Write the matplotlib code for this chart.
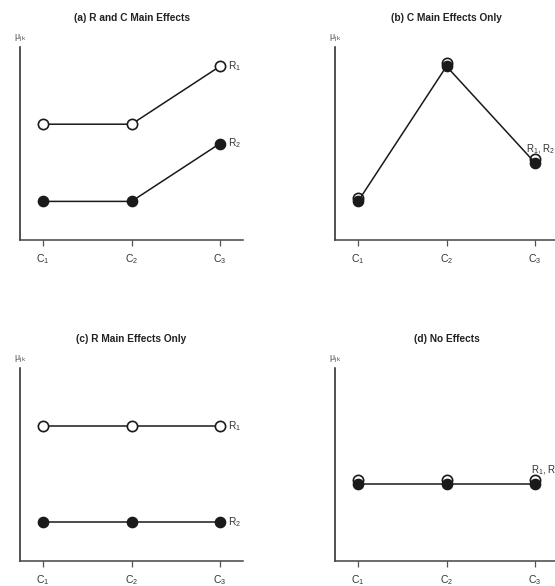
import numpy as np
import matplotlib
matplotlib.use("Agg")
import matplotlib.pyplot as plt
import matplotlib.transforms as mtransforms

plt.rcParams.update({"font.family": ["Liberation Sans", "DejaVu Sans"],
                     "mathtext.default": "regular"})

# column levels and cell means for each pattern
LEVELS = [1, 2, 3]
TICK_LABELS = ["C$_1$", "C$_2$", "C$_3$"]
TITLES = ["(a) R and C Main Effects", "(b) C Main Effects Only",
          "(c) R Main Effects Only", "(d) No Effects"]

R1_A = [6, 6, 9]
R2_A = [2, 2, 5]
R1_B = [2, 9, 4]
R2_B = [2, 9, 4]
R1_C = [7, 7, 7]
R2_C = [2, 2, 2]
R1_D = [4, 4, 4]
R2_D = [4, 4, 4]

fig = plt.figure(figsize=(5.55, 5.86), dpi=100)
W, H = 5.55 * 100, 5.86 * 100

def make_ax(left_px, top_px):
    # axes rectangle given in pixel units
    return fig.add_axes([left_px / W, 1 - (top_px + 193) / H, 223 / W, 193 / H])

axs = [make_ax(20, 47), make_ax(335, 47), make_ax(20, 368), make_ax(335, 368)]

def draw(ax, title, r1, r2, labels, together, lab_dx=-3):
    # when the two rows coincide, nudge the open markers up so both show
    shift = mtransforms.offset_copy(ax.transData, fig=fig, x=0, y=3.5, units="dots")
    if together:
        ax.plot(LEVELS, r1, ls="none", marker="o", ms=7.4, mfc="white",
                mec="#1a1a1a", mew=1.2, zorder=3, transform=shift, clip_on=False)
    else:
        ax.plot(LEVELS, r1, color="#1a1a1a", lw=1.1, marker="o", ms=7.4,
                mfc="white", mec="#1a1a1a", mew=1.2, zorder=3, clip_on=False)
    ax.plot(LEVELS, r2, color="#1a1a1a", lw=1.1, marker="o", ms=7.4,
            mfc="#1a1a1a", mec="#1a1a1a", zorder=4, clip_on=False)
    ax.set_xlim(0.74, 3.26)
    ax.set_ylim(0, 10)
    for s in ["top", "right"]:
        ax.spines[s].set_visible(False)
    ax.spines["left"].set_color("#222222")
    ax.spines["bottom"].set_color("#444444")
    ax.spines["left"].set_linewidth(1.1)
    ax.spines["bottom"].set_linewidth(1.1)
    ax.set_yticks([])
    ax.set_xticks(LEVELS)
    ax.set_xticklabels(TICK_LABELS, fontsize=7.5, color="#333333")
    ax.tick_params(axis="x", length=4, width=0.9, color="#555555", pad=5)
    ax.set_title(title, fontsize=7.3, fontweight="bold", color="#222222", pad=19)
    ax.text(0.0, 1.015, r"μ$_{j\,k}$", transform=ax.transAxes, fontsize=6.5,
            color="#555555", ha="center", va="bottom")
    if together:
        ax.annotate(labels[0], xy=(LEVELS[-1], r2[-1]), xytext=(lab_dx, 9.5),
                    textcoords="offset points", fontsize=7, color="#333333",
                    ha="left", va="center", annotation_clip=False)
    else:
        for lab, r in zip(labels, [r1, r2]):
            ax.annotate(lab, xy=(LEVELS[-1], r[-1]), xytext=(6, 0),
                        textcoords="offset points", fontsize=7.3, color="#333333",
                        ha="left", va="center", annotation_clip=False)

draw(axs[0], TITLES[0], R1_A, R2_A, ["R$_1$", "R$_2$"], False)
draw(axs[1], TITLES[1], R1_B, R2_B, ["R$_1$, R$_2$"], True, lab_dx=-6.5)
draw(axs[2], TITLES[2], R1_C, R2_C, ["R$_1$", "R$_2$"], False)
draw(axs[3], TITLES[3], R1_D, R2_D, ["R$_1$, R$_2$"], True, lab_dx=-3)

fig.savefig("out.png", dpi=100, facecolor="white")
